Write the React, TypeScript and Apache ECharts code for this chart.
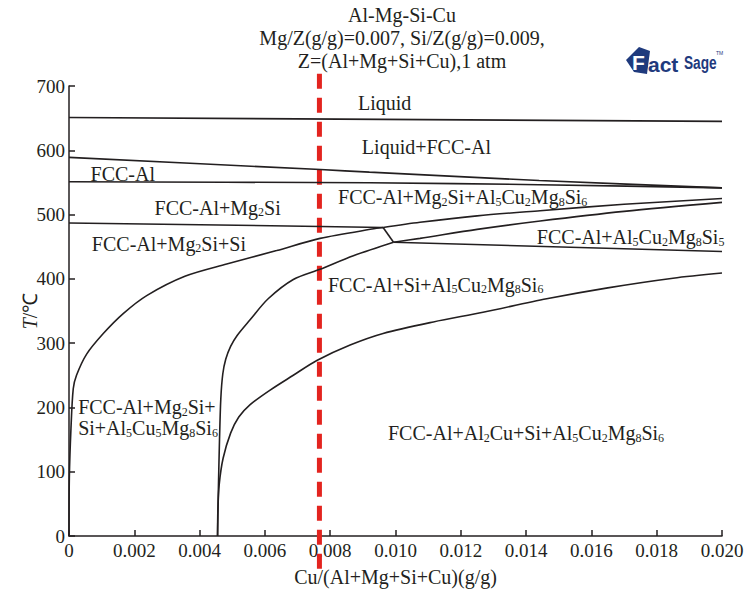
import React, { useEffect, useRef } from "react";
import * as echarts from "echarts";

const INK = "#231f20";
const RED = "#e3241f";
const LOGO = "#1f3a7d";
const SERIF = "'Liberation Serif', 'Times New Roman', serif";
const SANS = "'Liberation Sans', Arial, sans-serif";

// axis ticks
const xMin = 0;
const xMax = 0.02;
const xStep = 0.002;
const yMin = 0;
const yMax = 700;
const yStep = 100;

// phase boundaries [Cu mass fraction, T in °C]
const liquidus = [[0, 651], [0.02, 645]];
const solidus = [[0, 589], [0.0077, 570], [0.0092, 566], [0.0144, 553], [0.02, 541.5]];
const mg2siSolvus = [[0, 551], [0.0092, 549.5], [0.0144, 546.5], [0.02, 541.5]];
const siSolvus = [[0, 487], [0.0077, 481.5], [0.00962, 480]];
const curveALower = [
  [0, 0], [0.00001, 90], [0.00006, 167], [0.00013, 229], [0.00023, 250], [0.00054, 283],
  [0.00105, 315], [0.00166, 346], [0.00238, 374], [0.00355, 404], [0.00483, 423],
  [0.00636, 444], [0.00769, 463], [0.00942, 478.6], [0.00962, 480],
];
const curveAUpper = [[0.00962, 480], [0.01075, 488], [0.0125, 498], [0.01443, 506], [0.017, 516], [0.02, 525]];
const tieLine = [[0.00962, 480], [0.00994, 457]];
const al5Solvus = [[0.00994, 457], [0.02, 442.5]];
const curveBLower = [
  [0.00455, 0], [0.00457, 60], [0.00461, 150], [0.00465, 214], [0.00471, 252], [0.0048, 275],
  [0.00495, 295], [0.00515, 312], [0.00554, 336], [0.0061, 369], [0.00687, 399], [0.00769, 415],
  [0.00871, 436], [0.00994, 457],
];
const curveBUpper = [[0.00994, 457], [0.01075, 463], [0.0125, 477], [0.01443, 490], [0.017, 505], [0.02, 519]];
const curveC = [
  [0.00455, 0], [0.00456, 40], [0.0046, 80], [0.00472, 121], [0.00495, 160], [0.0052, 185],
  [0.00554, 204], [0.00616, 227], [0.00687, 250], [0.00759, 273], [0.00861, 297], [0.00962, 315],
  [0.01116, 333], [0.01268, 348], [0.01463, 369], [0.0165, 386], [0.0185, 401], [0.02, 409],
];
// studied alloy composition (vertical dashed line), drawn top to bottom
const alloyLine = [[0.00767, 719], [0.00767, -62]];

// region labels: text, left x, middle y (data coords)
const regionLabels = [
  { text: "Liquid", x: 0.00885, y: 674 },
  { text: "Liquid+FCC-Al", x: 0.00897, y: 605 },
  { text: "FCC-Al", x: 0.00066, y: 563 },
  { text: "FCC-Al+Mg{s|2}Si", x: 0.00262, y: 511 },
  { text: "FCC-Al+Mg{s|2}Si+Si", x: 0.0007, y: 455 },
  { text: "FCC-Al+Mg{s|2}Si+Al{s|5}Cu{s|2}Mg{s|8}Si{s|6}", x: 0.00824, y: 527 },
  { text: "FCC-Al+Al{s|5}Cu{s|2}Mg{s|8}Si{s|5}", x: 0.01433, y: 465 },
  { text: "FCC-Al+Si+Al{s|5}Cu{s|2}Mg{s|8}Si{s|6}", x: 0.00793, y: 391 },
  { text: "FCC-Al+Mg{s|2}Si+\nSi+Al{s|5}Cu{s|5}Mg{s|8}Si{s|6}", x: 0.00028, y: 184 },
  { text: "FCC-Al+Al{s|2}Cu+Si+Al{s|5}Cu{s|2}Mg{s|8}Si{s|6}", x: 0.00977, y: 160 },
];

const titleLines = ["Al-Mg-Si-Cu", "Mg/Z(g/g)=0.007, Si/Z(g/g)=0.009,", "Z=(Al+Mg+Si+Cu),1 atm"];

const RICH = {
  s: { fontSize: 12, fontFamily: SERIF, fill: INK, color: INK, lineHeight: 8, verticalAlign: "bottom" },
};

function boundary(name: string, data: number[][], smooth: number | boolean) {
  return {
    type: "line",
    name,
    data,
    symbol: "none",
    showSymbol: false,
    smooth,
    silent: true,
    z: 3,
    lineStyle: { color: INK, width: 1.6 },
  };
}

export default function App() {
  const ref = useRef<HTMLDivElement>(null);

  useEffect(() => {
    if (!ref.current) return;
    const chart = echarts.init(ref.current, null, { renderer: "svg" });
    const option = {
      animation: false,
      backgroundColor: "#ffffff",
      textStyle: { fontFamily: SERIF },
      grid: { left: 69, right: 25, top: 86, bottom: 54, containLabel: false },
      xAxis: {
        type: "value",
        min: xMin,
        max: xMax,
        interval: xStep,
        name: "Cu/(Al+Mg+Si+Cu)(g/g)",
        nameLocation: "middle",
        nameGap: 31,
        nameMoveOverlap: false,
        nameTextStyle: { fontFamily: SERIF, fontSize: 20, color: INK },
        axisLine: { show: true, lineStyle: { color: INK, width: 1.5 } },
        axisTick: { show: true, inside: true, length: 6, lineStyle: { color: INK, width: 1.5 } },
        axisLabel: {
          show: true,
          margin: 5,
          fontFamily: SERIF,
          fontSize: 19,
          color: INK,
          showMinLabel: true,
          showMaxLabel: true,
          formatter: (v: number) => (v === 0 ? "0" : v.toFixed(3)),
        },
        splitLine: { show: false },
      },
      yAxis: {
        type: "value",
        min: yMin,
        max: yMax,
        interval: yStep,
        name: "{i|T}/℃",
        nameLocation: "middle",
        nameGap: 29,
        nameMoveOverlap: false,
        nameRotate: 90,
        nameTextStyle: {
          fontFamily: SERIF,
          fontSize: 20,
          color: INK,
          rich: { i: { fontFamily: SERIF, fontSize: 20, fontStyle: "italic", color: INK } },
        },
        axisLine: { show: true, lineStyle: { color: INK, width: 1.5 } },
        axisTick: { show: true, inside: true, length: 6, lineStyle: { color: INK, width: 1.5 } },
        axisLabel: { show: true, margin: 4, fontFamily: SERIF, fontSize: 19, color: INK },
        splitLine: { show: false },
      },
      series: [
        {
          type: "line",
          name: "alloy",
          data: alloyLine,
          symbol: "none",
          clip: false,
          silent: true,
          z: 2,
          lineStyle: { color: RED, width: 5, type: [15, 9] },
        },
        boundary("liquidus", liquidus, false),
        boundary("solidus", solidus, 0.2),
        boundary("mg2siSolvus", mg2siSolvus, 0.2),
        boundary("siSolvus", siSolvus, false),
        boundary("curveALower", curveALower, 0.3),
        boundary("curveAUpper", curveAUpper, 0.3),
        boundary("tieLine", tieLine, false),
        boundary("al5Solvus", al5Solvus, false),
        boundary("curveBLower", curveBLower, 0.3),
        boundary("curveBUpper", curveBUpper, 0.3),
        boundary("curveC", curveC, 0.3),
        {
          type: "custom",
          name: "labels",
          coordinateSystem: "cartesian2d",
          silent: true,
          z: 5,
          data: regionLabels.map((l) => [l.x, l.y]),
          renderItem: (params: any, api: any) => {
            const p = api.coord([api.value(0), api.value(1)]);
            const lab = regionLabels[params.dataIndex];
            return {
              type: "text",
              x: p[0],
              y: p[1],
              style: {
                text: lab.text,
                fontFamily: SERIF,
                fontSize: 20,
                lineHeight: 21,
                fill: INK,
                align: "left",
                verticalAlign: "middle",
                rich: RICH,
              },
            };
          },
        },
      ],
      graphic: [
        {
          type: "text",
          x: 402,
          y: 3,
          style: {
            text: titleLines.join("\n"),
            fontFamily: SERIF,
            fontSize: 20,
            lineHeight: 23,
            fill: INK,
            align: "center",
            verticalAlign: "top",
          },
        },
        {
          type: "group",
          x: 0,
          y: 0,
          children: [
            {
              type: "polygon",
              shape: { points: [[626, 60], [639, 47], [650, 51], [647, 74], [634, 72]] },
              style: { fill: LOGO },
            },
            {
              type: "text",
              x: 632,
              y: 62,
              style: {
                text: "F",
                fontFamily: SANS,
                fontWeight: "bold",
                fontSize: 21,
                fill: "#ffffff",
                verticalAlign: "middle",
              },
            },
            {
              type: "text",
              x: 648,
              y: 64,
              style: {
                text: "act",
                fontFamily: SANS,
                fontWeight: "bold",
                fontSize: 21,
                fill: LOGO,
                verticalAlign: "middle",
              },
            },
            {
              type: "text",
              x: 684,
              y: 63,
              scaleX: 0.72,
              style: {
                text: "Sage",
                fontFamily: SANS,
                fontWeight: "bold",
                fontSize: 19,
                fill: LOGO,
                verticalAlign: "middle",
              },
            },
            {
              type: "text",
              x: 716,
              y: 53,
              style: {
                text: "TM",
                fontFamily: SANS,
                fontSize: 5,
                fill: LOGO,
                verticalAlign: "middle",
              },
            },
          ],
        },
      ],
    };
    chart.setOption(option as any);
    return () => chart.dispose();
  }, []);

  return (
    <div
      ref={ref}
      style={{ position: "fixed", left: 0, top: 0, width: 747, height: 592, background: "#fff" }}
    />
  );
}
